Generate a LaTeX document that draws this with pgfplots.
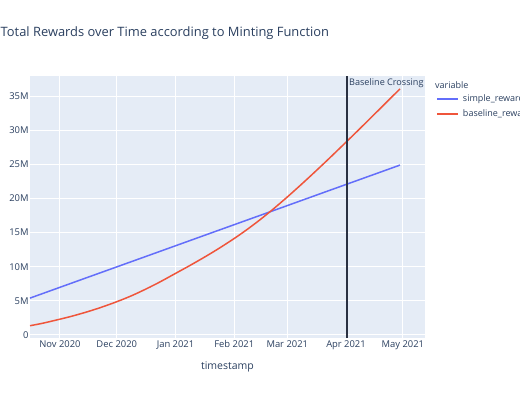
\documentclass[border=0pt]{standalone}
\usepackage{pgfplots}
\pgfplotsset{compat=1.18}
\usepackage{pgfplotstable}
\usepackage{fontspec}
\setmainfont{Open Sans}
\definecolor{bgc}{HTML}{E5ECF6}
\definecolor{txt}{HTML}{2A3F5F}
\definecolor{pblue}{HTML}{636EFA}
\definecolor{pred}{HTML}{EF553B}
\definecolor{vlinec}{HTML}{2A3142}
% x = days since 1 Oct 2020, y = millions
\pgfplotstableread{
day reward
15.2 5.40
45 8.38
76 11.47
107 14.57
138 17.66
169 20.76
210.5 24.90
}\simple
\pgfplotstableread{
day reward
15.2 1.35
22 1.72
31 2.31
38 2.80
46 3.44
53 4.07
61 4.87
69 5.77
77 6.81
84 7.80
92 9.02
100 10.24
108 11.52
115 12.70
123 14.14
130 15.50
137 16.97
144 18.55
151 20.22
158 21.96
165 23.75
172 25.58
179 27.45
186 29.34
193 31.25
200 33.18
207 35.11
210.5 36.08
}\baseline
\begin{document}
\begin{tikzpicture}[x=1pt,y=1pt]
\begin{axis}[
  at={(30pt,62pt)}, anchor=south west,
  width=395pt, height=262pt, scale only axis,
  xmin=15.2, xmax=223.7, ymin=-0.45, ymax=37.96,
  axis background/.style={fill=bgc},
  axis line style={draw=none},
  major tick length=0pt,
  xtick={31,61,92,123,151,182,212},
  xticklabels={Nov 2020,Dec 2020,Jan 2021,Feb 2021,Mar 2021,Apr 2021,May 2021},
  ytick={0,5,10,15,20,25,30,35},
  yticklabels={0,5M,10M,15M,20M,25M,30M,35M},
  grid=major,
  grid style={white, line width=1pt},
  ticklabel style={font=\fontsize{9.4}{10}\selectfont, text=txt},
  xticklabel style={anchor=north, inner sep=0pt, yshift=-2.5pt},
  yticklabel style={anchor=east, inner sep=0pt, xshift=-1.2pt},
  xlabel={timestamp},
  xlabel style={at={(axis description cs:0.5,-0.1095)}, anchor=center, font=\fontsize{10.5}{12}\selectfont, text=txt, inner sep=0pt},
  legend style={at={(axis description cs:1.0296,0.938)}, anchor=north west, draw=none, fill=none, inner sep=0pt,
    font=\fontsize{9}{10}\selectfont, row sep=3pt, cells={anchor=west}},
  legend cell align=left,
  legend image code/.code={\fill[#1] (0pt,-0.9pt) rectangle (21.6pt,0.9pt);},
  clip=false,
]
\addlegendimage{fill=pblue, draw=none}
\addlegendentry{\hspace{2.5pt}\textcolor{txt}{simple\_reward}}
\addlegendimage{fill=pred, draw=none}
\addlegendentry{\hspace{2.5pt}\textcolor{txt}{baseline\_reward}}
\addplot[pblue, line width=1.5pt, forget plot] table[x=day, y=reward] {\simple};
\addplot[pred, line width=1.5pt, smooth, forget plot] table[x=day, y=reward] {\baseline};
\addplot[vlinec, line width=1.5pt, forget plot] coordinates {(182.4,-0.45) (182.4,37.96)};
\node[anchor=west, inner sep=0pt, xshift=2.2pt, font=\fontsize{9.1}{10}\selectfont, text=txt] at (axis cs:182.4,36.9) {Baseline Crossing};
\end{axis}
\node[anchor=west, font=\fontsize{12.9}{14}\selectfont, text=txt, inner sep=0pt] at (0.5,366.7) {Total Rewards over Time according to Minting Function};
\node[anchor=west, font=\fontsize{9}{10}\selectfont, text=txt, inner sep=0pt] at (435,315) {variable};
\pgfresetboundingbox
\path[use as bounding box] (0,0) rectangle (520,400);
\end{tikzpicture}
\end{document}
